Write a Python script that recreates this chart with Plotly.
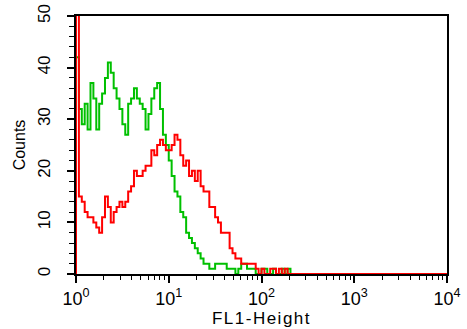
import numpy as np
import plotly.graph_objects as go

# 128-channel log histogram spanning four decades (10^0 .. 10^4)
n_channels = 128
decades = 4

# Counts per channel, channel 0 first
green_counts = [42, 32, 29, 33, 28, 37, 34, 28, 33, 35,
                38, 41, 39, 36, 34, 32, 29, 27, 33, 34,
                36, 34, 33, 32, 28, 31, 34, 36, 37, 32,
                27, 25, 22, 19, 16, 15, 12, 11, 8, 7,
                6, 5, 4, 3, 2, 2, 1, 1, 2, 2,
                2, 2, 1, 1, 1, 0, 1, 2, 2, 1,
                1, 1, 0, 0, 1, 1, 0, 0, 1, 0,
                0, 1, 0, 1] + [0] * 54

red_counts = [60, 15, 14, 12, 11, 11, 10, 9, 8, 11,
              15, 13, 10, 12, 13, 14, 13, 14, 16, 17,
              20, 19, 19, 20, 21, 21, 24, 23, 25, 26,
              25, 24, 24, 25, 27, 26, 23, 21, 22, 19,
              20, 18, 20, 17, 16, 16, 13, 13, 11, 10,
              8, 8, 8, 5, 4, 3, 3, 2, 2, 2,
              2, 2, 1, 0, 1, 0, 0, 1, 1, 0,
              1, 0, 1] + [0] * 55

x_tick_vals = [1, 10, 100, 1000, 10000]
x_tick_text = ["10<sup>0</sup>", "10<sup>1</sup>", "10<sup>2</sup>",
               "10<sup>3</sup>", "10<sup>4</sup>"]
y_tick_vals = [0, 10, 20, 30, 40, 50]

# channel edges on the log scale
edges = 10 ** (np.arange(n_channels + 1) * decades / n_channels)


def step_trace(counts, color):
    xs = [edges[0]] + list(edges[:-1]) + [edges[-1]]
    ys = [0] + list(counts) + [counts[-1]]
    return go.Scatter(x=xs, y=ys, mode="lines", line_shape="hv",
                      line=dict(color=color, width=2),
                      hoverinfo="skip", showlegend=False)


fig = go.Figure()
fig.add_trace(step_trace(green_counts, "#00c000"))
fig.add_trace(step_trace(red_counts, "#ff0000"))

font = "Liberation Sans, Arial, sans-serif"
minor_x = [m * 10 ** d for d in range(decades) for m in range(2, 10)]

fig.update_xaxes(
    type="log", range=[0, decades],
    tickmode="array", tickvals=x_tick_vals, ticktext=x_tick_text,
    ticks="outside", ticklen=7, tickwidth=1.5, tickcolor="black",
    minor=dict(tickmode="array", tickvals=minor_x, ticks="outside",
               ticklen=4, tickwidth=1.2, tickcolor="black"),
    showline=True, linecolor="black", linewidth=2, mirror=True,
    showgrid=False, zeroline=False, layer="below traces",
    tickfont=dict(family=font, size=18, color="black"),
    title=dict(text='<span style="letter-spacing:1.5px">FL1-Height</span>',
               standoff=0,
               font=dict(family=font, size=17, color="black")),
)
fig.update_yaxes(
    range=[0, 50],
    tickmode="array", tickvals=y_tick_vals, tickangle=-90,
    ticks="outside", ticklen=7, tickwidth=1.5, tickcolor="black",
    minor=dict(dtick=2, ticks="outside", ticklen=5, tickwidth=1.2,
               tickcolor="black"),
    showline=True, linecolor="black", linewidth=2, mirror=True,
    showgrid=False, zeroline=False, layer="below traces",
    ticklabelstandoff=10,
    tickfont=dict(family=font, size=17, color="black"),
    title=dict(text="Counts", standoff=6,
               font=dict(family=font, size=16, color="black")),
)

fig.update_layout(
    width=467, height=329,
    margin=dict(l=76, r=20, t=16, b=55, autoexpand=False),
    paper_bgcolor="white", plot_bgcolor="white",
)

fig.write_html("out.html")
